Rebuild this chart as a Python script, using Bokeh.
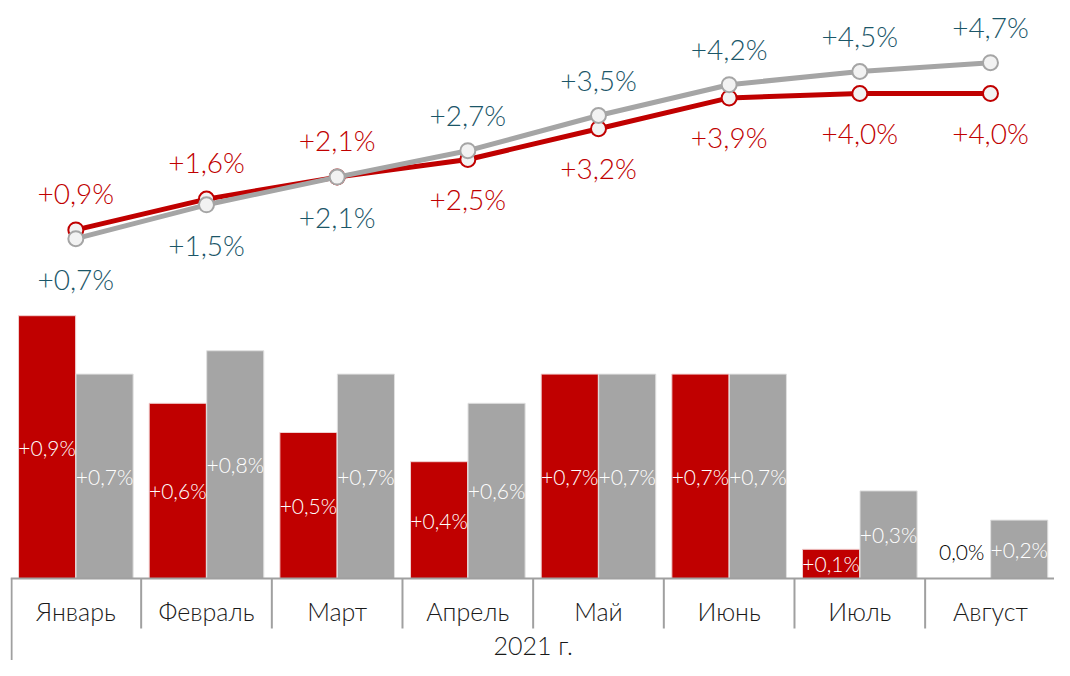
from bokeh.plotting import figure
from bokeh.models import ColumnDataSource, Range1d
from bokeh.core.properties import value
from bokeh.embed import file_html
from bokeh.resources import INLINE

months = ["Январь", "Февраль", "Март", "Апрель", "Май", "Июнь", "Июль", "Август"]
year_label = "2021 г."
red_month = [0.9, 0.6, 0.5, 0.4, 0.7, 0.7, 0.1, 0.0]
gray_month = [0.7, 0.78, 0.7, 0.6, 0.7, 0.7, 0.3, 0.2]
red_cum = [0.9, 1.6, 2.1, 2.5, 3.2, 3.9, 4.0, 4.0]
gray_cum = [0.7, 1.47, 2.1, 2.7, 3.5, 4.2, 4.5, 4.7]

RED = "#C00000"
GRAY = "#A5A5A5"
TEAL = "#1B5668"
AXIS = "#A0A0A0"
TXT = "#1A1A1A"
FONT = "Lato Light, Lato"


def fmt(v):
    s = f"{round(v, 1):.1f}".replace(".", ",")
    return ("+" if round(v, 1) > 0 else "") + s + "%"


W, H = 1054, 660
BASE = 578      # pixel row of the bar baseline
BAR_PX = 292    # pixels per 1 p.p. of bars
ZERO2 = 269     # pixel row of 0 for the cumulative lines
LINE_PX = 44    # pixels per 1 p.p. of lines
XEND = 7.99
n = len(months)
xc = [i + 0.5 for i in range(n)]

p = figure(width=W, height=H, output_backend="svg", toolbar_location=None,
           x_range=Range1d(0, XEND),
           y_range=Range1d(-(H - BASE) / BAR_PX, BASE / BAR_PX),
           x_axis_location=None, y_axis_location=None,
           min_border_left=10, min_border_right=0, min_border_top=0, min_border_bottom=0)
p.extra_y_ranges = {"cum": Range1d(-(H - ZERO2) / LINE_PX, ZERO2 / LINE_PX)}
p.xgrid.visible = False
p.ygrid.visible = False
p.outline_line_color = None
p.background_fill_color = "white"
p.border_fill_color = "white"

bars = ColumnDataSource(dict(
    xr=[x - 0.22 for x in xc], xg=[x + 0.22 for x in xc],
    red=red_month, gray=gray_month,
    red_half=[v / 2 for v in red_month], gray_half=[v / 2 for v in gray_month],
    red_lbl=[fmt(v) for v in red_month], gray_lbl=[fmt(v) for v in gray_month],
    red_col=["#FFFFFF" if v > 0 else "#000000" for v in red_month],
    red_off=[0 if v > 0 else -27 for v in red_month],
    gray_col=["#FFFFFF" if v > 0 else "#000000" for v in gray_month],
    gray_off=[0 if v > 0 else -27 for v in gray_month],
))

p.vbar(x="xr", top="red", width=0.437, source=bars,
       fill_color=RED, line_color="#F0D0D0", line_width=1)
p.vbar(x="xg", top="gray", width=0.437, source=bars,
       fill_color=GRAY, line_color="#E0E0E0", line_width=1)

p.text(x="xr", y="red_half", text="red_lbl", source=bars, text_color="red_col",
       y_offset="red_off", text_align="center", text_baseline="middle",
       text_font=value(FONT), text_font_size="21px")
p.text(x="xg", y="gray_half", text="gray_lbl", source=bars, text_color="gray_col",
       y_offset="gray_off", text_align="center", text_baseline="middle",
       text_font=value(FONT), text_font_size="21px")

# category axis drawn on the same scales
p.segment(x0=[0], y0=[0], x1=[XEND], y1=[0], line_color=AXIS, line_width=2)
sep_x = list(range(1, n))
p.segment(x0=sep_x, y0=[0] * len(sep_x), x1=sep_x,
          y1=[-(628 - BASE) / BAR_PX] * len(sep_x), line_color=AXIS, line_width=2)
p.segment(x0=[0.008], y0=[0], x1=[0.008], y1=[-(H - BASE) / BAR_PX],
          line_color=AXIS, line_width=2)

p.text(x=xc, y=[-(610 - BASE) / BAR_PX] * n, text=months,
       text_color=TXT, text_align="center", text_baseline="middle",
       text_font=value(FONT), text_font_size="25px")
p.text(x=[n / 2], y=[-(644 - BASE) / BAR_PX], text=[year_label],
       text_color=TXT, text_align="center", text_baseline="middle",
       text_font=value(FONT), text_font_size="25px")

# cumulative lines
lines = ColumnDataSource(dict(
    x=xc, red=red_cum, gray=gray_cum,
    red_lbl=[fmt(v) for v in red_cum], gray_lbl=[fmt(v) for v in gray_cum],
    red_off=[-37 if r >= g else 39 for r, g in zip(red_cum, gray_cum)],
    gray_off=[40 if r >= g else -36 for r, g in zip(red_cum, gray_cum)],
))
p.line(x="x", y="red", source=lines, y_range_name="cum", line_color=RED, line_width=5)
p.scatter(x="x", y="red", source=lines, y_range_name="cum", size=15,
          fill_color="#F2F2F2", line_color=RED, line_width=2)
p.line(x="x", y="gray", source=lines, y_range_name="cum", line_color=GRAY, line_width=5)
p.scatter(x="x", y="gray", source=lines, y_range_name="cum", size=15,
          fill_color="#F2F2F2", line_color=GRAY, line_width=2)

p.text(x="x", y="red", text="red_lbl", source=lines, y_range_name="cum",
       y_offset="red_off", text_color=RED, text_align="center", text_baseline="middle",
       text_font=value(FONT), text_font_size="28px")
p.text(x="x", y="gray", text="gray_lbl", source=lines, y_range_name="cum",
       y_offset="gray_off", text_color=TEAL, text_align="center", text_baseline="middle",
       text_font=value(FONT), text_font_size="28px")

open("out.html", "w").write(file_html(p, INLINE))
